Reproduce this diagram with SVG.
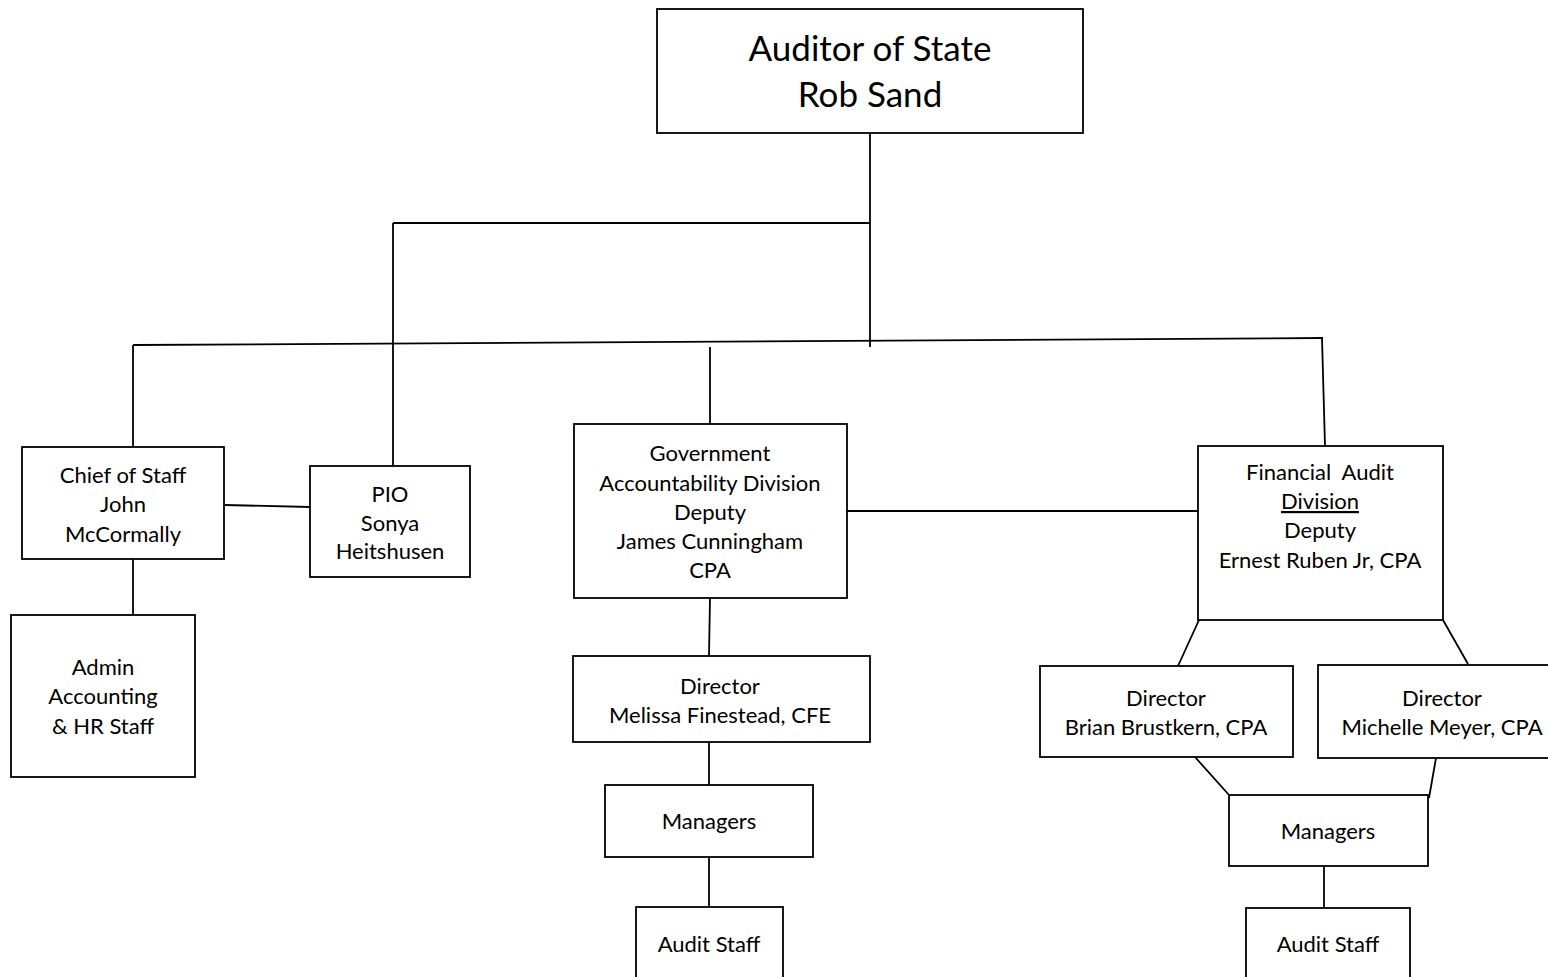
<svg xmlns="http://www.w3.org/2000/svg" width="1548" height="977" viewBox="0 0 1548 977">
<style>
.box{fill:#fff;stroke:#000;stroke-width:1.8}
.ln{stroke:#000;stroke-width:1.8;fill:none}
text{font-family:Lato,"Open Sans","Liberation Sans",sans-serif;font-size:22px;fill:#000;text-anchor:middle}
.big{font-size:35px}
</style>
<rect width="1548" height="977" fill="#fff"/>
<g id="connectors">
<line class="ln" x1="870" y1="133" x2="870" y2="347"/>
<line class="ln" x1="393" y1="223" x2="870" y2="223"/>
<line class="ln" x1="133" y1="345" x2="1323" y2="338"/>
<line class="ln" x1="133" y1="345" x2="133" y2="447"/>
<line class="ln" x1="393" y1="223" x2="393" y2="466"/>
<line class="ln" x1="225" y1="505" x2="310" y2="507"/>
<line class="ln" x1="133" y1="559" x2="133" y2="619"/>
<line class="ln" x1="710" y1="347" x2="710" y2="424"/>
<line class="ln" x1="1322" y1="338" x2="1325" y2="446"/>
<line class="ln" x1="847" y1="511" x2="1200" y2="511"/>
<line class="ln" x1="710" y1="598" x2="709" y2="656"/>
<line class="ln" x1="709" y1="742" x2="709" y2="785"/>
<line class="ln" x1="709" y1="857" x2="709" y2="907"/>
<line class="ln" x1="1199" y1="620" x2="1178" y2="666"/>
<line class="ln" x1="1443" y1="620" x2="1468" y2="664"/>
<line class="ln" x1="1195" y1="757" x2="1229" y2="795"/>
<line class="ln" x1="1436" y1="758" x2="1429" y2="798"/>
<line class="ln" x1="1324" y1="866" x2="1324" y2="908"/>
</g>
<g id="auditor">
<rect class="box" x="657" y="9" width="426" height="124"/>
<text class="big" x="870" y="61">Auditor of State</text>
<text class="big" x="870" y="107">Rob Sand</text>
</g>
<g id="chief">
<rect class="box" x="22" y="447" width="202" height="112"/>
<text x="123" y="483">Chief of Staff</text>
<text x="123" y="512">John</text>
<text x="123" y="542">McCormally</text>
</g>
<g id="pio">
<rect class="box" x="310" y="466" width="160" height="111"/>
<text x="390" y="502">PIO</text>
<text x="390" y="531">Sonya</text>
<text x="390" y="559">Heitshusen</text>
</g>
<g id="admin">
<rect class="box" x="11" y="615" width="184" height="162"/>
<text x="103" y="675">Admin</text>
<text x="103" y="704">Accounting</text>
<text x="103" y="734">&amp; HR Staff</text>
</g>
<g id="gad">
<rect class="box" x="574" y="424" width="273" height="174"/>
<text x="710" y="461">Government</text>
<text x="710" y="491">Accountability Division</text>
<text x="710" y="520">Deputy</text>
<text x="710" y="549">James Cunningham</text>
<text x="710" y="578">CPA</text>
</g>
<g id="gad-director">
<rect class="box" x="573" y="656" width="297" height="86"/>
<text x="720" y="694">Director</text>
<text x="720" y="723">Melissa Finestead, CFE</text>
</g>
<g id="gad-managers">
<rect class="box" x="605" y="785" width="208" height="72"/>
<text x="709" y="829">Managers</text>
</g>
<g id="gad-staff">
<rect class="box" x="636" y="907" width="147" height="75"/>
<text x="709" y="952">Audit Staff</text>
</g>
<g id="fad">
<rect class="box" x="1198" y="446" width="245" height="174"/>
<text x="1320" y="480" xml:space="preserve">Financial  Audit</text>
<text x="1320" y="509" text-decoration="underline">Division</text>
<text x="1320" y="538">Deputy</text>
<text x="1320" y="568">Ernest Ruben Jr, CPA</text>
</g>
<g id="fad-director-brian">
<rect class="box" x="1040" y="666" width="253" height="91"/>
<text x="1166" y="706">Director</text>
<text x="1166" y="735">Brian Brustkern, CPA</text>
</g>
<g id="fad-director-michelle">
<rect class="box" x="1318" y="665" width="236" height="93"/>
<text x="1442" y="706">Director</text>
<text x="1442" y="735">Michelle Meyer, CPA</text>
</g>
<g id="fad-managers">
<rect class="box" x="1229" y="795" width="199" height="71"/>
<text x="1328" y="839">Managers</text>
</g>
<g id="fad-staff">
<rect class="box" x="1246" y="908" width="164" height="75"/>
<text x="1328" y="952">Audit Staff</text>
</g>
</svg>
